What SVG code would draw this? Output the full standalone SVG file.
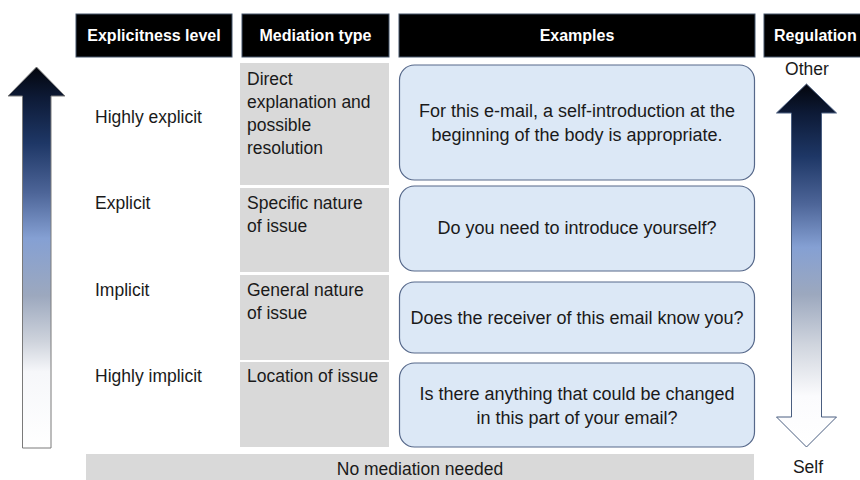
<svg xmlns="http://www.w3.org/2000/svg" width="860" height="480" viewBox="0 0 860 480">
  <defs>
    <linearGradient id="gradUp" x1="0" y1="67" x2="0" y2="448" gradientUnits="userSpaceOnUse">
      <stop offset="0" stop-color="#03050c"/>
      <stop offset="0.08" stop-color="#0d1a36"/>
      <stop offset="0.2" stop-color="#1e3766"/>
      <stop offset="0.33" stop-color="#4d6598"/>
      <stop offset="0.45" stop-color="#85a0d3"/>
      <stop offset="0.6" stop-color="#9ca8be"/>
      <stop offset="0.72" stop-color="#ced3dc"/>
      <stop offset="0.8" stop-color="#f6f7fa"/>
      <stop offset="1" stop-color="#ffffff"/>
    </linearGradient>
    <linearGradient id="gradBoth" x1="0" y1="84" x2="0" y2="447" gradientUnits="userSpaceOnUse">
      <stop offset="0" stop-color="#03050c"/>
      <stop offset="0.08" stop-color="#0d1a36"/>
      <stop offset="0.2" stop-color="#1e3766"/>
      <stop offset="0.33" stop-color="#4d6598"/>
      <stop offset="0.45" stop-color="#85a0d3"/>
      <stop offset="0.58" stop-color="#9ca8be"/>
      <stop offset="0.72" stop-color="#d0d5de"/>
      <stop offset="0.86" stop-color="#fbfbfd"/>
      <stop offset="1" stop-color="#ffffff"/>
    </linearGradient>
  </defs>
  <style>
    text { font-family: "Liberation Sans", Arial, sans-serif; fill: #1a1a1a; font-size: 17.5px; }
    .hdr rect { fill: #000000; stroke: #44546a; stroke-width: 1; }
    .hdr text { fill: #ffffff; font-weight: bold; font-size: 16px; }
    .cell { fill: #d9d9d9; }
    .ex rect { fill: #dce8f6; stroke: #56688a; stroke-width: 1.2; }
    .ex text { font-size: 18px; }
    .mid { text-anchor: middle; }
  </style>

  <rect width="860" height="480" fill="#ffffff"/>

  <!-- column headers -->
  <g id="hdr-level" class="hdr">
    <rect x="76" y="14" width="156" height="43"/>
    <text x="154" y="41" class="mid">Explicitness level</text>
  </g>
  <g id="hdr-mediation" class="hdr">
    <rect x="242" y="14" width="147" height="43"/>
    <text x="315.5" y="41" class="mid">Mediation type</text>
  </g>
  <g id="hdr-examples" class="hdr">
    <rect x="399" y="14" width="356" height="43"/>
    <text x="577" y="41" class="mid">Examples</text>
  </g>
  <g id="hdr-regulation" class="hdr">
    <rect x="764" y="14" width="100" height="43"/>
    <text x="774" y="41">Regulation</text>
  </g>

  <!-- explicitness arrow -->
  <g id="arrow-explicitness">
    <path d="M36.5 67 L65 96 L51 96 L51 448 L22.5 448 L22.5 96 L8 96 Z" fill="url(#gradUp)" stroke="#7a7a7a" stroke-width="1"/>
  </g>

  <!-- regulation arrow -->
  <g id="arrow-regulation">
    <path d="M806.5 84 L836.5 113 L821.5 113 L821.5 417 L836.5 417 L806.5 447 L776.5 417 L791.5 417 L791.5 113 L776.5 113 Z" fill="url(#gradBoth)" stroke="#4a5e80" stroke-width="1"/>
    <text x="807" y="75" class="mid">Other</text>
    <text x="808" y="473" class="mid">Self</text>
  </g>

  <!-- explicitness levels -->
  <g id="level-highly-explicit"><text x="95" y="123">Highly explicit</text></g>
  <g id="level-explicit"><text x="95" y="209">Explicit</text></g>
  <g id="level-implicit"><text x="95" y="296">Implicit</text></g>
  <g id="level-highly-implicit"><text x="95" y="382">Highly implicit</text></g>

  <!-- mediation types -->
  <g id="med-direct">
    <rect class="cell" x="240" y="63" width="149" height="122"/>
    <text x="247" y="85">Direct</text>
    <text x="247" y="108">explanation and</text>
    <text x="247" y="131">possible</text>
    <text x="247" y="154">resolution</text>
  </g>
  <g id="med-specific">
    <rect class="cell" x="240" y="188" width="149" height="84"/>
    <text x="247" y="209">Specific nature</text>
    <text x="247" y="232">of issue</text>
  </g>
  <g id="med-general">
    <rect class="cell" x="240" y="275" width="149" height="85"/>
    <text x="247" y="296">General nature</text>
    <text x="247" y="319">of issue</text>
  </g>
  <g id="med-location">
    <rect class="cell" x="240" y="362" width="149" height="85"/>
    <text x="247" y="382">Location of issue</text>
  </g>

  <!-- example prompts -->
  <g id="ex-direct" class="ex">
    <rect x="399.5" y="65" width="355" height="115" rx="15"/>
    <text x="577" y="117" class="mid">For this e-mail, a self-introduction at the</text>
    <text x="577" y="141" class="mid">beginning of the body is appropriate.</text>
  </g>
  <g id="ex-specific" class="ex">
    <rect x="399.5" y="186" width="355" height="85" rx="15"/>
    <text x="577" y="234" class="mid">Do you need to introduce yourself?</text>
  </g>
  <g id="ex-general" class="ex">
    <rect x="399.5" y="282" width="355" height="71" rx="15"/>
    <text x="577" y="324" class="mid">Does the receiver of this email know you?</text>
  </g>
  <g id="ex-location" class="ex">
    <rect x="399.5" y="363" width="355" height="84" rx="15"/>
    <text x="577" y="400" class="mid">Is there anything that could be changed</text>
    <text x="577" y="424" class="mid">in this part of your email?</text>
  </g>

  <!-- baseline row -->
  <g id="no-mediation">
    <rect class="cell" x="86" y="454" width="668" height="30"/>
    <text x="420" y="475" class="mid">No mediation needed</text>
  </g>
</svg>
